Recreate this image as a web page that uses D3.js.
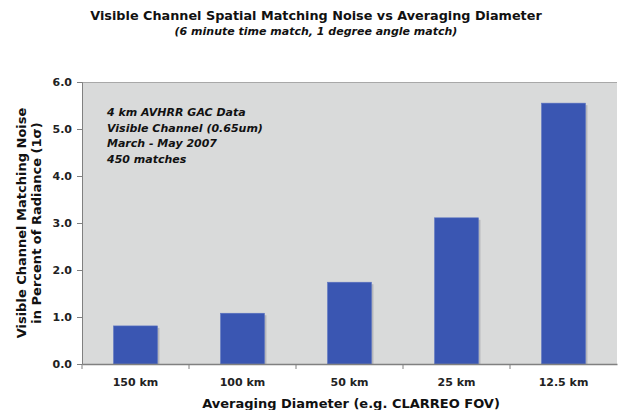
<!DOCTYPE html>
<html><head><meta charset="utf-8">
<script src="https://cdn.jsdelivr.net/npm/d3@7"></script>
<style>body{margin:0;background:#fff;} text{font-family:"DejaVu Sans",Verdana,sans-serif;}</style>
</head><body><svg id="c" width="620" height="410"></svg>
<script>
const categories = ["150 km","100 km","50 km","25 km","12.5 km"];
const values = [0.81, 1.08, 1.74, 3.11, 5.55];
const yTicks = [0,1,2,3,4,5,6];
const notes = ["4 km AVHRR GAC Data","Visible Channel (0.65um)","March - May 2007","450 matches"];

const svg = d3.select("#c");
const m = {l:82, r:617, t:82, b:364};
const x = d3.scaleBand().domain(categories).range([m.l, m.r]).paddingInner(0.59).paddingOuter(0.295);
const y = d3.scaleLinear().domain([0,6]).range([m.b, m.t]);

svg.append("rect").attr("x",m.l).attr("y",m.t).attr("width",m.r-m.l).attr("height",m.b-m.t).attr("fill","#d9dada");
svg.append("line").attr("x1",m.l).attr("x2",m.r).attr("y1",m.t+0.5).attr("y2",m.t+0.5).attr("stroke","#a8a8a8");

// bars with shadow
svg.selectAll(".sh").data(values).join("rect")
  .attr("x",(d,i)=>x(categories[i])+2).attr("y",d=>y(d)+2)
  .attr("width",x.bandwidth()).attr("height",d=>m.b-y(d)-2).attr("fill","#b5b6ba");
svg.selectAll(".bar").data(values).join("rect")
  .attr("x",(d,i)=>x(categories[i])).attr("y",d=>y(d))
  .attr("width",x.bandwidth()).attr("height",d=>m.b-y(d)).attr("fill","#3a56b2")
  .attr("stroke","#5a72c0").attr("stroke-width",0.6);

// y axis
const ya = svg.append("g").attr("transform",`translate(${m.l},0)`)
  .call(d3.axisLeft(y).tickValues(yTicks).tickFormat(d3.format(".1f")).tickSize(5).tickPadding(5));
ya.select(".domain").attr("stroke","#808080");
ya.selectAll(".tick line").attr("stroke","#808080");
ya.selectAll("text").attr("font-size",11).attr("font-weight","bold").attr("fill","#222");

// x axis
const xa = svg.append("g").attr("transform",`translate(0,${m.b})`)
  .call(d3.axisBottom(x).tickSize(0).tickPadding(14));
xa.select(".domain").attr("stroke","#808080").attr("stroke-width",1.5);
xa.selectAll("text").attr("font-size",11).attr("font-weight","bold").attr("fill","#222");
const step = x.step();
svg.selectAll(".xt").data(d3.range(1,categories.length)).join("line")
  .attr("x1",d=>m.l+d*step).attr("x2",d=>m.l+d*step).attr("y1",m.b).attr("y2",m.b+5)
  .attr("stroke","#808080");
svg.append("line").attr("x1",m.l).attr("x2",m.l).attr("y1",m.b).attr("y2",m.b+5).attr("stroke","#808080");

// titles
svg.append("text").attr("x",316).attr("y",20).attr("text-anchor","middle")
  .attr("font-size",12.8).attr("font-weight","bold").attr("fill","#111")
  .text("Visible Channel Spatial Matching Noise vs Averaging Diameter");
svg.append("text").attr("x",316).attr("y",35).attr("text-anchor","middle")
  .attr("font-size",11).attr("font-weight","bold").attr("font-style","italic").attr("fill","#111")
  .text("(6 minute time match, 1 degree angle match)");
svg.append("text").attr("x",351).attr("y",408).attr("text-anchor","middle")
  .attr("font-size",13).attr("font-weight","bold").attr("fill","#111")
  .text("Averaging Diameter (e.g. CLARREO FOV)");
const yt = svg.append("text").attr("transform","translate(26,223) rotate(-90)").attr("text-anchor","middle")
  .attr("font-size",13).attr("font-weight","bold").attr("fill","#111");
yt.append("tspan").attr("x",0).attr("dy",0).text("Visible Channel Matching Noise");
yt.append("tspan").attr("x",0).attr("dy",15).text("in Percent of Radiance (1σ)");

// notes
svg.selectAll(".note").data(notes).join("text")
  .attr("x",107).attr("y",(d,i)=>116+i*15.5)
  .attr("font-size",11).attr("font-weight","bold").attr("font-style","italic").attr("fill","#111")
  .text(d=>d);
</script></body></html>
